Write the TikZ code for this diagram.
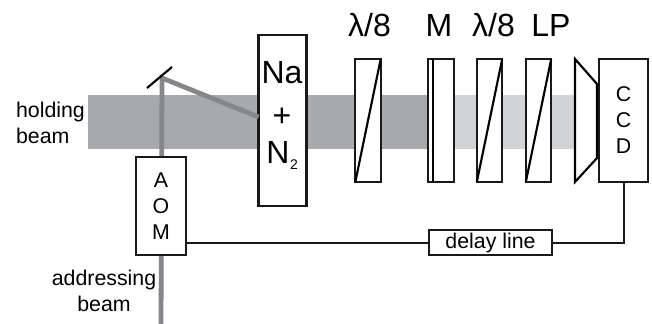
\documentclass[tikz,border=0pt]{standalone}
\usepackage{fontspec}
\usepackage{tikz}
\usepackage{xcolor}
\setmainfont{Liberation Sans}
\definecolor{darkband}{HTML}{A7A9AC}
\definecolor{lightband}{HTML}{D1D3D4}
\definecolor{beamgray}{HTML}{85878A}
\newcommand{\lbl}{\fontsize{16}{19.5}\selectfont}
\newcommand{\biglbl}{\fontsize{24}{28}\selectfont}
\tikzset{
    box/.style={draw=black!90, line width=1.6pt, fill=white, inner sep=0pt, outer sep=0pt, align=center},
    plate/.style={box, minimum width=19pt, minimum height=92pt},
    beam/.style={draw=beamgray, line width=3.6pt},
    wire/.style={draw=black!90, line width=1.5pt},
    title/.style={inner sep=0pt, font=\biglbl},
    side/.style={inner sep=0pt, font=\lbl}
}

\begin{document}
\begin{tikzpicture}[x=0.75pt, y=-0.75pt, line width=1.6pt]
    \useasboundingbox (0,0) rectangle (652,324);
    % beams
    \fill[darkband] (88,95) rectangle (428,149);
    \fill[lightband] (428,95) rectangle (574,149);
    \coordinate (source) at (161,324);
    \coordinate (turn) at (162,78);
    \node[box, minimum width=36pt, minimum height=128pt] (cell) at (282.5,120.5) {};
    \draw[beam] (source) -- (turn) -- (cell.west |- 0,117);

    % mirror
    \coordinate (mirrorA) at (147,88);
    \coordinate (mirrorB) at (172,67);
    \draw (mirrorA) -- (mirrorB);

    % optics
    \node[plate] (waveA) at (368,120.5) {};
    \node[plate] (mask) at (441,120.5) {};
    \node[plate] (waveB) at (489.5,120.5) {};
    \node[plate] (polar) at (538.5,120.5) {};
    \draw (waveA.south west) -- (waveA.north east);
    \draw (waveB.south west) -- (waveB.north east);
    \draw (polar.south west) -- (polar.north east);
    \draw (433,59) -- (433,182);
    \draw[fill=white] (575,59) -- (597,84) -- (597,158) -- (575,182) -- cycle;

    % electronics
    \node[box, minimum width=37pt, minimum height=73.5pt, font=\lbl] (aom) at (161,206) {A\\O\\M};
    \node[box, minimum width=36.5pt, minimum height=92pt, font=\lbl] (ccd) at (623.5,120.5) {C\\C\\D};
    \node[box, minimum width=92pt, minimum height=18.5pt, font=\lbl] (delay) at (490.5,242.5) {delay line};
    \draw[wire] (aom.east |- delay.west) -- (delay.west);
    \draw[wire] (delay.east) -- (ccd.south |- delay.east) -- (ccd.south);

    % cell text
    \node[inner sep=0pt, font=\biglbl] (na) at (282,73) {Na};
    \node[inner sep=0pt, font=\biglbl] (plus) at (282,117) {+};
    \node[inner sep=0pt, font=\biglbl] (nitro) at (278,152) {N};
    \node[inner sep=0pt, font=\fontsize{10.5}{12}\selectfont] (two) at (294,165) {2};

    % labels
    \node[title] (titleA) at (369.5,25) {λ/8};
    \node[title] (titleM) at (439,25) {M};
    \node[title] (titleB) at (493.5,25) {λ/8};
    \node[title] (titleP) at (551,25) {LP};
    \node[side, align=left, anchor=west] (holding) at (15,123) {holding\\beam};
    \node[side, align=center] (addressing) at (104,291) {addressing\\beam};
\end{tikzpicture}
\end{document}
